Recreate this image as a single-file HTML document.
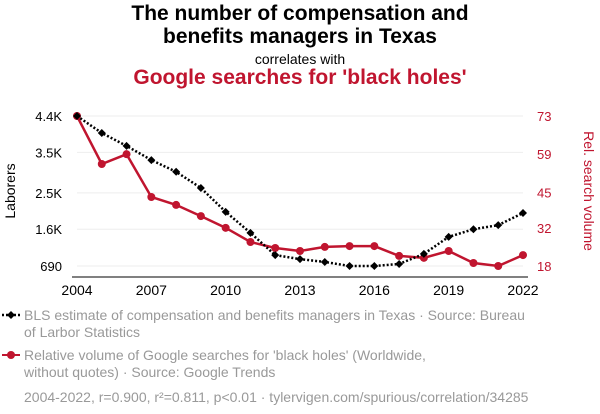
<!DOCTYPE html>
<html><head><meta charset="utf-8"><style>
body{margin:0;background:#fff;font-family:"Liberation Sans",sans-serif}
#wrap{position:relative;width:600px;height:414px;overflow:hidden}
.t{position:absolute;left:0;width:600px;text-align:center}
</style></head><body>
<div id="wrap">
<div class="t" style="top:2px;font-size:21px;font-weight:bold;line-height:23px;color:#000">The number of compensation and<br>benefits managers in Texas</div>
<div class="t" style="top:51px;font-size:14px;color:#000">correlates with</div>
<div class="t" style="top:66px;font-size:21px;font-weight:bold;color:#c0152f">Google searches for 'black holes'</div>
<svg id="svg" width="600" height="414" style="position:absolute;left:0;top:0"></svg>
</div>
<script>
const years=[2004,2005,2006,2007,2008,2009,2010,2011,2012,2013,2014,2015,2016,2017,2018,2019,2020,2021,2022];
const laborers=[4400,3980,3660,3310,3020,2620,2030,1510,960,860,790,690,690,740,990,1410,1600,1700,2000];
const searches=[73,55.4,59,43.3,40.4,36.3,32,26.8,24.6,23.5,25,25.3,25.3,21.7,21,23.5,19.1,18,22];
const leftTicks=[690,1600,2500,3500,4400];
const leftLabels=["690","1.6K","2.5K","3.5K","4.4K"];
const rightTicks=[18,32,45,59,73];
const xTicks=[2004,2007,2010,2013,2016,2019,2022];
const svg=document.getElementById('svg');const NS='http://www.w3.org/2000/svg';
function x(v){return 77+(v-2004)*(446/18);}
function yl(v){return 266-(v-690)*(150/3710);}
function yr(v){return 266-(v-18)*(150/55);}
function mk(t,a,txt){const e=document.createElementNS(NS,t);for(const k in a)e.setAttribute(k,a[k]);if(txt!==undefined)e.textContent=txt;svg.appendChild(e);return e;}
leftTicks.forEach((v,i)=>{
 const g=mk('line',{x1:77,x2:523,y1:yl(v),y2:yl(v),stroke:'#eee'});
 
 
 const t=mk('text',{x:62,y:yl(v)+5,'text-anchor':'end','font-size':13,fill:'#000'},leftLabels[i]);
 
 
});
rightTicks.forEach(v=>{
 const t=mk('text',{x:537,y:yr(v)+5,'font-size':13,fill:'#c0152f'},String(v));
 
 
});
xTicks.forEach(v=>{
 const t=mk('text',{x:x(v),y:295,'text-anchor':'middle','font-size':14,fill:'#000'},String(v));
 
 
});
const ax=mk('line',{x1:72,x2:528,y1:277,y2:277,stroke:'#000','stroke-width':1});


const lt=mk('text',{x:0,y:0,transform:'translate(15,191) rotate(-90)','text-anchor':'middle','font-size':14,fill:'#000'},'Laborers');


const rt=mk('text',{x:0,y:0,transform:'translate(584,191) rotate(90)','text-anchor':'middle','font-size':14,fill:'#c0152f'},'Rel. search volume');


const rl=mk('polyline',{points:years.map((v,i)=>x(v)+','+yr(searches[i])).join(' '),fill:'none',stroke:'#c0152f','stroke-width':2.5});


years.forEach((v,i)=>{const c=mk('circle',{cx:x(v),cy:yr(searches[i]),r:4,fill:'#c0152f'});
 
 });
const bl=mk('polyline',{points:years.map((v,i)=>x(v)+','+yl(laborers[i])).join(' '),fill:'none',stroke:'#000','stroke-width':2.5,'stroke-dasharray':'2,2'});


years.forEach((v,i)=>{const X=x(v),Y=yl(laborers[i]);const p=mk('polygon',{points:`${X},${Y-4} ${X+4},${Y} ${X},${Y+4} ${X-4},${Y}`,fill:'#000'});
 
 });
const l1=mk('line',{x1:2,x2:20,y1:315,y2:315,stroke:'#000','stroke-width':2.5,'stroke-dasharray':'2,2'});


const d1=mk('polygon',{points:'11,311 15,315 11,319 7,315',fill:'#000'});


const t1=mk('text',{x:24,y:320,'font-size':14,fill:'#999'});


t1.innerHTML='<tspan x="24">BLS estimate of compensation and benefits managers in Texas · Source: Bureau</tspan><tspan x="24" dy="17">of Larbor Statistics</tspan>';
const l2=mk('line',{x1:2,x2:20,y1:355,y2:355,stroke:'#c0152f','stroke-width':2});


const c2=mk('circle',{cx:11,cy:355,r:4,fill:'#c0152f'});


const t2=mk('text',{x:24,y:360,'font-size':14,fill:'#999'});


t2.innerHTML='<tspan x="24">Relative volume of Google searches for \'black holes\' (Worldwide,</tspan><tspan x="24" dy="17">without quotes) · Source: Google Trends</tspan>';
const f=mk('text',{x:24,y:402,'font-size':14,fill:'#999'},'2004-2022, r=0.900, r²=0.811, p<0.01 · tylervigen.com/spurious/correlation/34285');


</script>
</body></html>
